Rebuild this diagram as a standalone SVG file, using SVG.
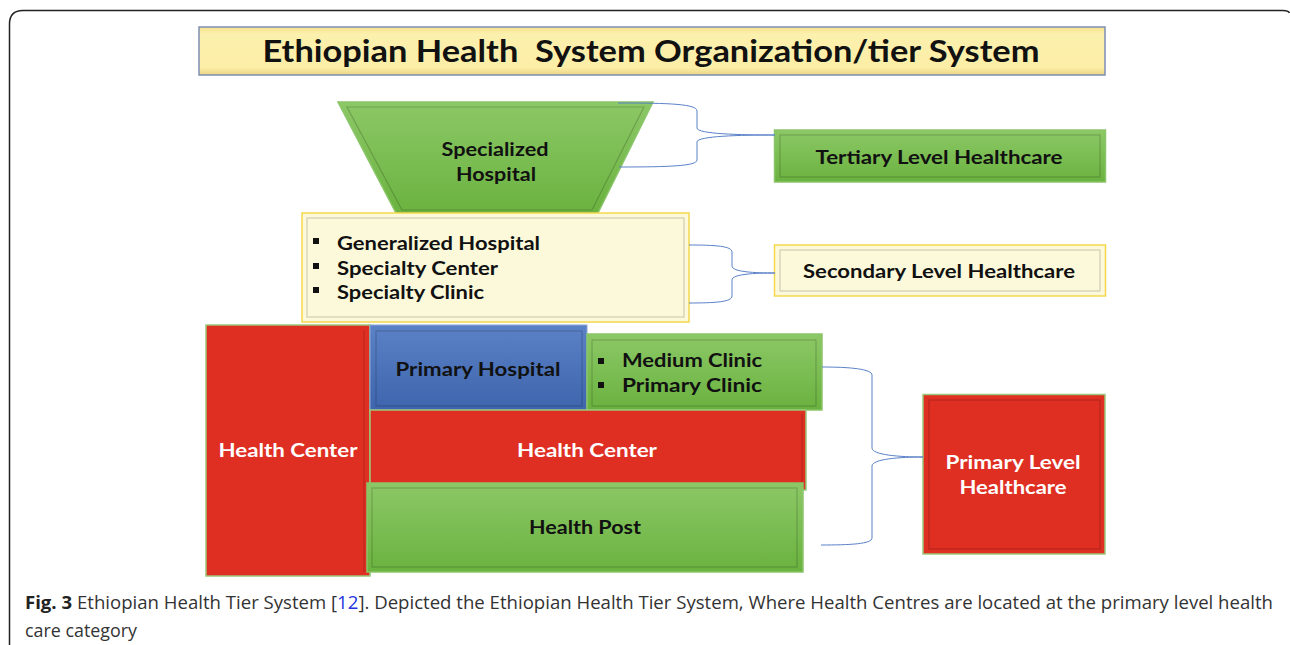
<svg xmlns="http://www.w3.org/2000/svg" width="1290" height="645" viewBox="0 0 1290 645">
<defs>
<linearGradient id="gGreen" x1="0" y1="0" x2="0" y2="1"><stop offset="0" stop-color="#8CC866"/><stop offset="1" stop-color="#6AB23F"/></linearGradient>
<linearGradient id="gBlue" x1="0" y1="0" x2="0" y2="1"><stop offset="0" stop-color="#5B82C6"/><stop offset="1" stop-color="#3E65AD"/></linearGradient>
<linearGradient id="gTitle" x1="0" y1="0" x2="0" y2="1"><stop offset="0" stop-color="#F8E48E"/><stop offset="0.15" stop-color="#FCF0AE"/><stop offset="0.85" stop-color="#FCEEA6"/><stop offset="1" stop-color="#E9D383"/></linearGradient>
<style>
.lbl{font-family:Lato,"Liberation Sans",sans-serif;font-weight:bold;font-size:19px;fill:#111;}
.w{fill:#fff;}
.c{text-anchor:middle;}
.green{fill:url(#gGreen);stroke:#8BC56A;stroke-width:1.5;}
.red{fill:#DF2E22;stroke:#9AC77A;stroke-width:1.5;}
.inner{fill:none;stroke:#000;stroke-opacity:0.18;stroke-width:1.2;}
.brace{fill:none;stroke:#5B82C8;stroke-width:1;}
.cap{font-family:"Open Sans","Noto Sans",sans-serif;font-size:18px;fill:#333;}
</style>
</defs>
<rect width="1290" height="645" fill="#fff"/>
<path d="M9.5,645 V24 Q9.5,10.5 23,10.5 H1283 Q1288.5,10.5 1289.5,13" fill="none" stroke="#222" stroke-width="1.5"/>

<g id="title">
<rect x="199" y="27" width="906" height="48" fill="url(#gTitle)" stroke="#7D8FB5" stroke-width="1.5"/>
<text x="651" y="62" class="c" style="font-family:Lato,'Liberation Sans',sans-serif;font-weight:bold;font-size:31px;fill:#111;white-space:pre" textLength="777" lengthAdjust="spacingAndGlyphs" xml:space="preserve">Ethiopian Health  System Organization/tier System</text>
</g>

<g id="specialized-hospital">
<polygon points="338,102 653,102 597,215 397,215" class="green"/>
<polygon points="347,107 644,107 592,210 402,210" class="inner"/>
<text x="495" y="156" class="lbl c" textLength="107" lengthAdjust="spacingAndGlyphs">Specialized</text>
<text x="496" y="181" class="lbl c" textLength="80" lengthAdjust="spacingAndGlyphs">Hospital</text>
</g>

<g id="tertiary">
<rect x="774.5" y="130" width="331" height="52" class="green"/>
<rect x="780" y="135" width="320" height="42" class="inner"/>
<text x="939" y="164" class="lbl c" textLength="247" lengthAdjust="spacingAndGlyphs">Tertiary Level Healthcare</text>
</g>

<g id="secondary-list">
<rect x="302" y="213" width="387" height="109" fill="#FCF9DA" stroke="#F5D74E" stroke-width="1.5"/>
<rect x="307" y="218" width="377" height="99" class="inner" stroke-opacity="0.12"/>
<rect x="313" y="238" width="6" height="6" fill="#111"/>
<rect x="313" y="263" width="6" height="6" fill="#111"/>
<rect x="313" y="287" width="6" height="6" fill="#111"/>
<text x="337" y="250" class="lbl" textLength="203" lengthAdjust="spacingAndGlyphs">Generalized Hospital</text>
<text x="337" y="275" class="lbl" textLength="161" lengthAdjust="spacingAndGlyphs">Specialty Center</text>
<text x="337" y="299" class="lbl" textLength="147" lengthAdjust="spacingAndGlyphs">Specialty Clinic</text>
</g>

<g id="secondary">
<rect x="774.5" y="245" width="331" height="51" fill="#FCF9DA" stroke="#F5D74E" stroke-width="1.5"/>
<rect x="780" y="250" width="320" height="41" class="inner" stroke-opacity="0.12"/>
<text x="939" y="278" class="lbl c" textLength="272" lengthAdjust="spacingAndGlyphs">Secondary Level Healthcare</text>
</g>

<g id="health-center-left">
<rect x="206" y="325" width="164" height="251" class="red"/>
<line x1="364" y1="330" x2="364" y2="572" stroke="#000" stroke-opacity="0.15" stroke-width="1.2"/>
<text x="288" y="457" class="lbl w c" textLength="139" lengthAdjust="spacingAndGlyphs">Health Center</text>
</g>

<g id="primary-hospital">
<rect x="370" y="325" width="217" height="85" fill="url(#gBlue)" stroke="#8AA6D6" stroke-width="1"/>
<rect x="376" y="331" width="206" height="75" class="inner"/>
<text x="478" y="376" class="lbl c" textLength="165" lengthAdjust="spacingAndGlyphs">Primary Hospital</text>
</g>

<g id="clinics">
<rect x="587" y="334" width="235" height="76" class="green"/>
<rect x="592" y="340" width="224" height="66" class="inner"/>
<rect x="598" y="358" width="6" height="6" fill="#111"/>
<rect x="598" y="382" width="6" height="6" fill="#111"/>
<text x="622" y="367" class="lbl" textLength="140" lengthAdjust="spacingAndGlyphs">Medium Clinic</text>
<text x="622" y="392" class="lbl" textLength="140" lengthAdjust="spacingAndGlyphs">Primary Clinic</text>
</g>

<g id="health-center-mid">
<rect x="370" y="410" width="436" height="80" class="red"/>
<line x1="802" y1="414" x2="802" y2="488" stroke="#000" stroke-opacity="0.15" stroke-width="1.2"/>
<text x="587" y="457" class="lbl w c" textLength="140" lengthAdjust="spacingAndGlyphs">Health Center</text>
</g>

<g id="health-post">
<rect x="367" y="483" width="436" height="89" class="green"/>
<rect x="372" y="488" width="425" height="79" class="inner"/>
<text x="585" y="534" class="lbl c" textLength="112" lengthAdjust="spacingAndGlyphs">Health Post</text>
</g>

<g id="primary-level">
<rect x="923" y="394.5" width="182" height="159.5" class="red"/>
<rect x="929" y="400" width="171" height="149" class="inner" stroke-opacity="0.12"/>
<text x="1013" y="469" class="lbl w c" textLength="135" lengthAdjust="spacingAndGlyphs">Primary Level</text>
<text x="1013" y="494" class="lbl w c" textLength="107" lengthAdjust="spacingAndGlyphs">Healthcare</text>
</g>

<g id="connectors">
<path class="brace" d="M618,103 C670,103 697,104 697,111 V128 C697,134 740,135 775,135"/>
<path class="brace" d="M775,135 C740,135 697,136 697,142 V160 C697,166 670,167 619,167"/>
<path class="brace" d="M689,245 C715,245 732,246 732,252 V266 C732,272 755,273 775,273"/>
<path class="brace" d="M775,273 C755,273 732,274 732,280 V296 C732,302 715,303 689,303"/>
<path class="brace" d="M822,367 C850,367 872,369 872,375 V448 C872,455 900,457 923,457"/>
<path class="brace" d="M923,457 C900,457 872,459 872,466 V538 C872,544 850,545 821,545"/>
</g>

<g id="caption">
<text x="25" y="609" class="cap" textLength="1248" lengthAdjust="spacingAndGlyphs"><tspan font-weight="bold" fill="#222">Fig. 3</tspan> Ethiopian Health Tier System [<tspan fill="#2233DD">12</tspan>]. Depicted the Ethiopian Health Tier System, Where Health Centres are located at the primary level health</text>
<text x="25" y="637" class="cap" textLength="112" lengthAdjust="spacingAndGlyphs">care category</text>
</g>
</svg>
